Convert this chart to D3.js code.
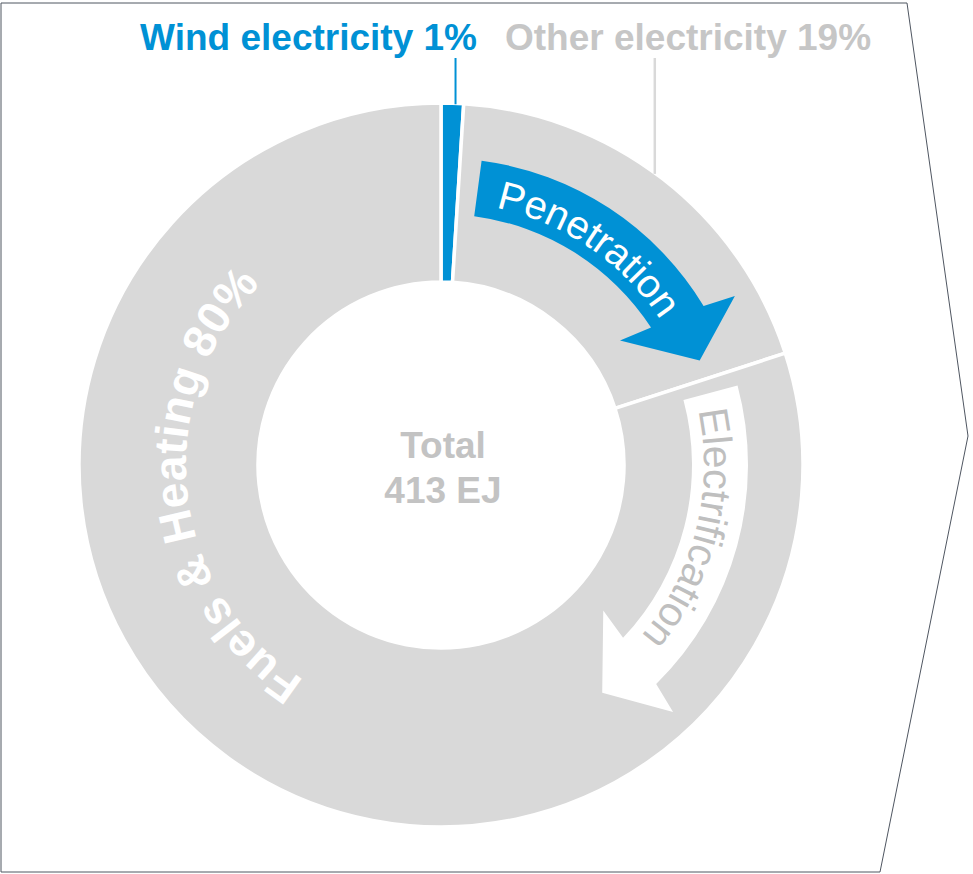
<!DOCTYPE html>
<html>
    <head>
        <meta charset="utf-8">
        <title>Wind electricity share</title>
        <script src="https://d3js.org/d3.v7.min.js"></script>
        <style>
            body{
                margin: 0;
                background: #ffffff;
            }
            svg text{
                font-family: "Liberation Sans", Arial, sans-serif;
            }
        </style>
    </head>
    <body>
        <svg width="973" height="874"></svg>
    </body>
    <script>
        // data
        var categories = ["Wind electricity", "Other electricity", "Fuels & Heating"];
        var shares = [1, 19, 80];
        var sliceColors = ["#0091d5", "#d9d9d9", "#d9d9d9"];
        var totalLabel = ["Total", "413 EJ"];

        var svg = d3.select("svg"),
            width = +svg.attr("width"),
            height = +svg.attr("height");

        var cx = 441, cy = 465,
            outerR = 362, innerR = 183;

        var deg = Math.PI / 180;

        function polar(r, a) {
            return [cx + r * Math.sin(a * deg), cy - r * Math.cos(a * deg)];
        }

        // frame (chevron box)
        svg.append("path")
            .attr("d", "M1,3 L907,3 L968,436 L880,872 L1,872 Z")
            .attr("fill", "none")
            .attr("stroke", "#4f5661")
            .attr("stroke-width", 1);

        var pie = d3.pie().sort(null).value(function (d) {return d;});
        var arcs = pie(shares);

        var arc = d3.arc().innerRadius(innerR).outerRadius(outerR);

        var g = svg.append("g").attr("transform", "translate(" + cx + "," + cy + ")");

        g.selectAll(".slice")
            .data(arcs)
            .enter()
            .append("path")
            .attr("class", "slice")
            .attr("d", arc)
            .attr("fill", function (d, i) {return sliceColors[i];})
            .attr("stroke", "#ffffff")
            .attr("stroke-width", 3.5);

        // top labels with leader lines
        var labelText = [categories[0] + " " + shares[0] + "%", categories[1] + " " + shares[1] + "%"];
        var labelColor = ["#0091d5", "#c6c6c6"];
        var labelX = [477, 505];
        var labelAnchor = ["end", "start"];
        var leaderAngle = [(arcs[0].startAngle + arcs[0].endAngle) / 2 / deg + 0.5, 36.2];
        var leaderColor = ["#0091d5", "#d9d9d9"];

        labelText.forEach(function (t, i) {
            svg.append("text")
                .attr("x", labelX[i])
                .attr("y", 50)
                .attr("text-anchor", labelAnchor[i])
                .attr("font-size", 37)
                .attr("font-weight", "bold")
                .attr("fill", labelColor[i])
                .text(t);
            var p = polar(outerR, leaderAngle[i]);
            svg.append("line")
                .attr("x1", p[0]).attr("x2", p[0])
                .attr("y1", 58).attr("y2", p[1] + 1)
                .attr("stroke", leaderColor[i])
                .attr("stroke-width", i == 0 ? 2 : 2.5);
        });

        // curved arrows
        function arrowPath(a0, a1) {
            var rin = 251, rout = 307;
            var s0 = polar(rout, a0), s1 = polar(rout, a1 + 1);
            var b1 = polar(339, a1 + 2.3), tip = polar(279, a1 + 10.2), b2 = polar(218, a1 - 2.6);
            var i1 = polar(rin, a1 - 1), i0 = polar(rin, a0);
            return "M" + s0 + " A" + rout + "," + rout + " 0 0 1 " + s1 +
                " L" + b1 + " L" + tip + " L" + b2 + " L" + i1 +
                " A" + rin + "," + rin + " 0 0 0 " + i0 + " Z";
        }

        function arcPath(r, a0, a1) {
            var p0 = polar(r, a0), p1 = polar(r, a1);
            var large = (a1 - a0) > 180 ? 1 : 0;
            return "M" + p0 + " A" + r + "," + r + " 0 " + large + " 1 " + p1;
        }

        svg.append("path")
            .attr("d", arrowPath(7.6, 57.8))
            .attr("fill", "#0091d5");

        svg.append("path")
            .attr("d", arrowPath(75, 134.5))
            .attr("fill", "#ffffff");

        // text along arcs
        var curved = [
            {id: "penPath", text: "Penetration", r: 263, a0: 12, a1: 56.5, size: 40, weight: "normal", color: "#ffffff"},
            {id: "elecPath", text: "Electrification", r: 263, a0: 78, a1: 130.5, size: 41, weight: "normal", color: "#bfbfbf"},
            {id: "fuelPath", text: categories[2] + " " + shares[2] + "%", r: 255, a0: 212.5, a1: 315, size: 46, weight: "bold", color: "#ffffff"}
        ];

        var defs = svg.append("defs");
        curved.forEach(function (c) {
            defs.append("path")
                .attr("id", c.id)
                .attr("d", arcPath(c.r, c.a0, c.a1 + 5));
            svg.append("text")
                .attr("font-size", c.size)
                .attr("font-weight", c.weight)
                .attr("fill", c.color)
                .append("textPath")
                .attr("href", "#" + c.id)
                .attr("textLength", c.r * (c.a1 - c.a0) * deg)
                .attr("lengthAdjust", "spacing")
                .text(c.text);
        });

        // center total
        svg.selectAll(".total")
            .data(totalLabel)
            .enter()
            .append("text")
            .attr("class", "total")
            .attr("x", cx + 2)
            .attr("y", function (d, i) {return 458 + i * 45;})
            .attr("text-anchor", "middle")
            .attr("font-size", 37)
            .attr("font-weight", "bold")
            .attr("fill", "#c3c3c3")
            .text(function (d) {return d;});
    </script>
</html>
